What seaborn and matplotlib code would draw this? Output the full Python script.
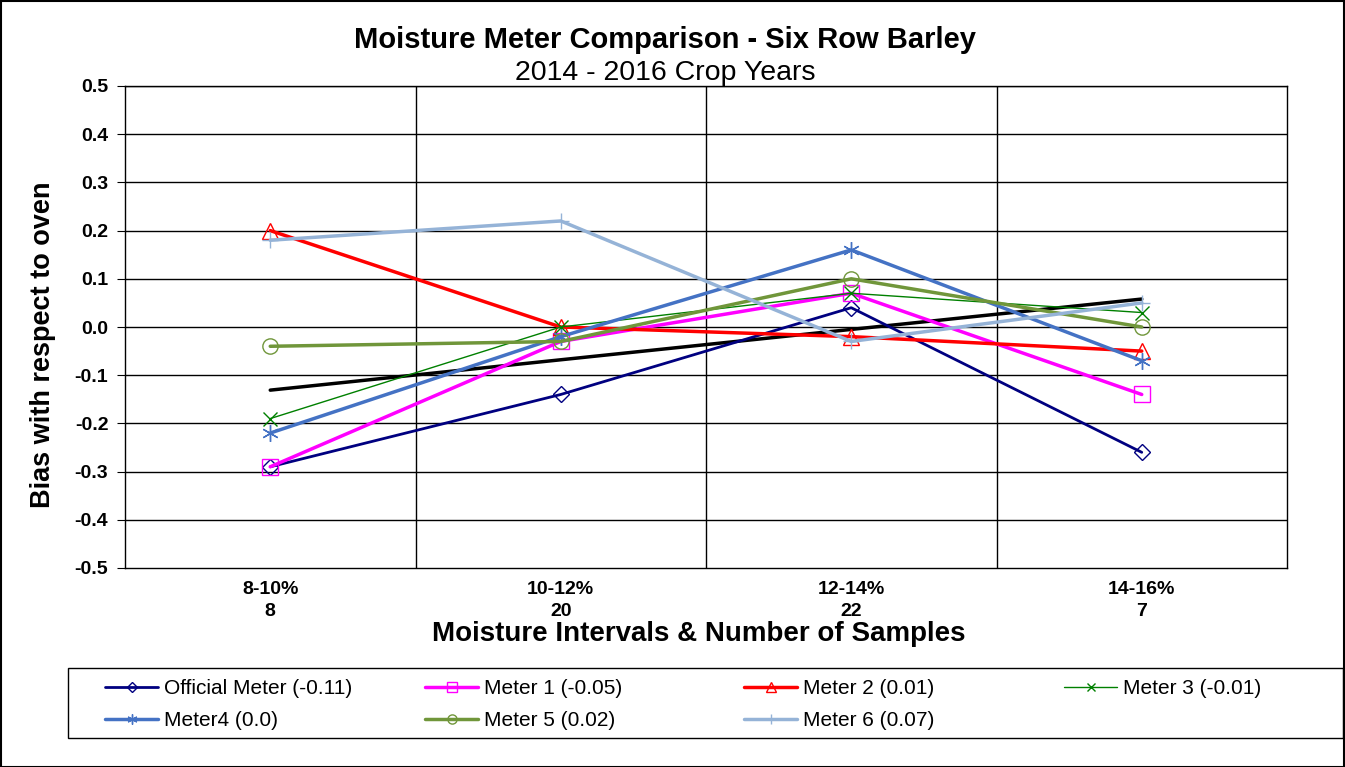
import matplotlib
matplotlib.use("Agg")
import matplotlib.pyplot as plt
from matplotlib.patches import Rectangle
import seaborn as sns
import pandas as pd

# categorias e valores
intervals = ["8-10%\n8", "10-12%\n20", "12-14%\n22", "14-16%\n7"]
official = [-0.29, -0.14, 0.04, -0.26]
meter1 = [-0.29, -0.03, 0.07, -0.14]
meter2 = [0.20, 0.00, -0.02, -0.05]
meter3 = [-0.19, 0.00, 0.07, 0.03]
meter4 = [-0.22, -0.02, 0.16, -0.07]
meter5 = [-0.04, -0.03, 0.10, 0.00]
meter6 = [0.18, 0.22, -0.03, 0.05]
trend = [-0.131, -0.068, -0.005, 0.058]  # linha de tendencia (preta)

series_names = ["Official Meter (-0.11)", "Meter 1 (-0.05)", "Meter 2 (0.01)",
                "Meter 3 (-0.01)", "Meter4 (0.0)", "Meter 5 (0.02)", "Meter 6 (0.07)"]
series_values = [official, meter1, meter2, meter3, meter4, meter5, meter6]

# estilo de cada serie: cor, marcador, largura da linha, tamanho do marcador
styles = {
    "Official Meter (-0.11)": ("#000080", "D", 2.0, 8.5),
    "Meter 1 (-0.05)": ("#FF00FF", "s", 2.5, 11),
    "Meter 2 (0.01)": ("#FF0000", "^", 2.5, 11),
    "Meter 3 (-0.01)": ("#008000", "x", 1.0, 10),
    "Meter4 (0.0)": ("#4472C4", (6, 2, 0), 2.5, 12),
    "Meter 5 (0.02)": ("#70963A", "o", 2.5, 11),
    "Meter 6 (0.07)": ("#95B3D7", "+", 2.5, 12),
}

rows = []
for name, vals in zip(series_names, series_values):
    for i, v in enumerate(vals):
        rows.append({"serie": name, "pos": i, "bias": v})
df = pd.DataFrame(rows)

sns.set_style("white")
plt.rcParams["font.family"] = ["Liberation Sans", "DejaVu Sans"]
plt.rcParams["text.color"] = "black"
plt.rcParams["axes.labelcolor"] = "black"
plt.rcParams["xtick.color"] = "black"
plt.rcParams["ytick.color"] = "black"

W, H = 1345, 767
fig = plt.figure(figsize=(W / 100, H / 100), dpi=100)
ax = fig.add_axes([125 / W, 1 - 568 / H, (1287 - 125) / W, (568 - 86) / H])

# linhas de grade
for y in [-0.4, -0.3, -0.2, -0.1, 0.0, 0.1, 0.2, 0.3, 0.4, 0.5]:
    ax.axhline(y, color="black", lw=1.0, zorder=0)
for x in [0.5, 1.5, 2.5]:
    ax.axvline(x, color="black", lw=1.0, zorder=0)

sns.lineplot(x=range(len(trend)), y=trend, color="black", lw=2.5, ax=ax, zorder=2)

for name in series_names:
    color, marker, lw, ms = styles[name]
    sub = df[df["serie"] == name]
    sns.lineplot(data=sub, x="pos", y="bias", color=color, lw=lw, marker=marker,
                 markersize=ms, markerfacecolor="none", markeredgecolor=color,
                 markeredgewidth=1.0, label=name, ax=ax, zorder=3)

ax.set_xlim(-0.5, 3.5)
ax.set_ylim(-0.5, 0.5)
ax.set_yticks([-0.5, -0.4, -0.3, -0.2, -0.1, 0.0, 0.1, 0.2, 0.3, 0.4, 0.5])
ax.set_yticklabels([f"{v:.1f}" for v in ax.get_yticks()], fontsize=14, fontweight="bold")
ax.set_xticks(range(len(intervals)))
ax.set_xticklabels(intervals, fontsize=14, fontweight="bold", linespacing=1.4)
ax.tick_params(axis="y", length=6, left=True, color="black", pad=6)
ax.tick_params(axis="x", length=0, pad=9)
for s in ax.spines.values():
    s.set_color("black")
    s.set_linewidth(1.0)

ax.set_xlabel("")
ax.set_ylabel("")
fig.text(699 / W, 1 - 634 / H, "Moisture Intervals & Number of Samples", ha="center", va="center",
         fontsize=20, fontweight="bold")
fig.text(43 / W, 1 - 345 / H, "Bias with respect to oven", ha="center", va="center",
         rotation=90, fontsize=19.5, fontweight="bold")

fig.text(665 / W, 1 - 40 / H, "Moisture Meter Comparison - Six Row Barley", ha="center", va="center",
         fontsize=21, fontweight="bold")
fig.text(665 / W, 1 - 73 / H, "2014 - 2016 Crop Years", ha="center", va="center", fontsize=20.5)

handles, labels = ax.get_legend_handles_labels()
ax.get_legend().remove()

# legenda em 4 colunas de largura fixa, como no original
col_x = [105, 425, 744, 1064]
col_items = [[0, 4], [1, 5], [2, 6], [3]]
for cx, items in zip(col_x, col_items):
    fig.legend([handles[i] for i in items], [labels[i] for i in items],
               loc="upper left", bbox_to_anchor=(cx / W, 1 - 679 / H),
               bbox_transform=fig.transFigure, frameon=False, fontsize=15,
               borderpad=0, borderaxespad=0, handlelength=2.55, handletextpad=0.3,
               labelspacing=0.62, markerscale=0.6)
fig.patches.append(Rectangle((68 / W, 1 - 738 / H), (1343 - 68) / W, 70 / H,
                             transform=fig.transFigure, fill=False, edgecolor="black", lw=1.0))

# borda da figura
fig.patches.append(Rectangle((0.0005, 0.0005), 0.999, 0.998, transform=fig.transFigure,
                             fill=False, edgecolor="black", lw=1.5))

fig.savefig("out.png", dpi=100)
